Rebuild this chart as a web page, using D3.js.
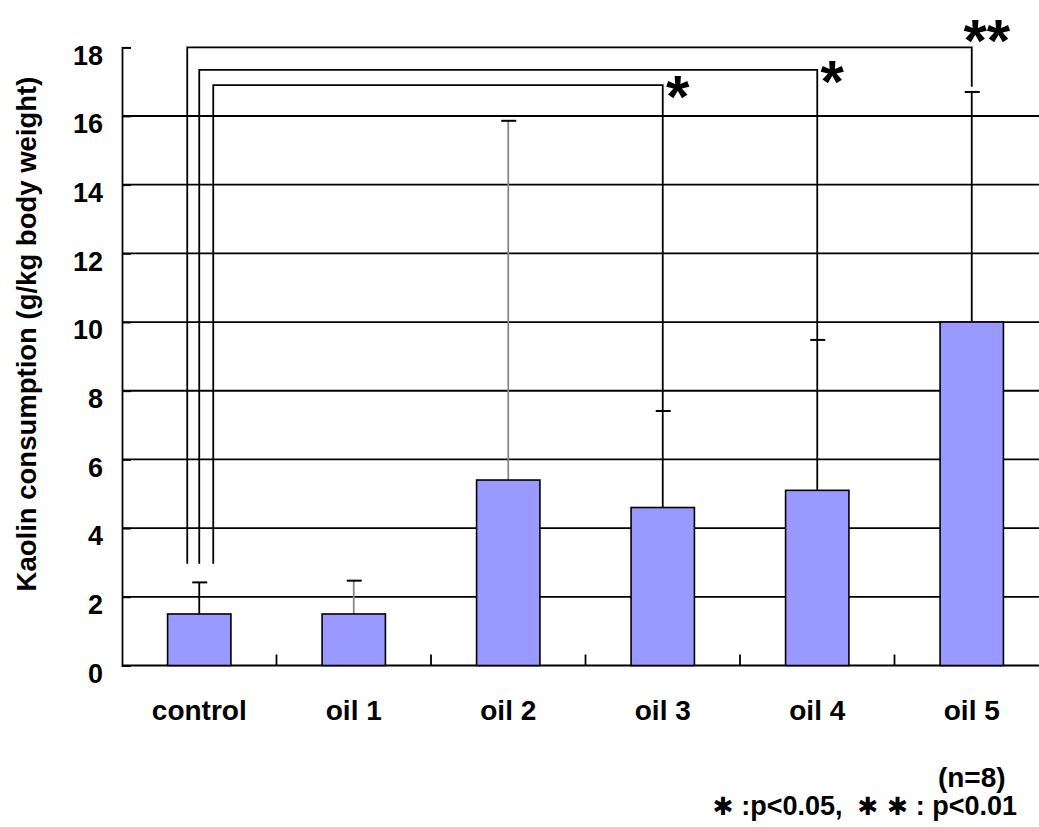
<!DOCTYPE html>
<html>
<head>
<meta charset="utf-8">
<script src="https://cdn.jsdelivr.net/npm/d3@7"></script>
<style>
  body { margin: 0; background: #fff; }
  text { font-family: "Liberation Sans", Arial, sans-serif; font-weight: bold; }
</style>
</head>
<body>
<script>
// data
var groups = ["control", "oil 1", "oil 2", "oil 3", "oil 4", "oil 5"];
var means = [1.5, 1.5, 5.4, 4.6, 5.1, 10.0];
var errTops = [2.42, 2.47, 15.86, 7.41, 9.48, 16.7];
var errColors = ["#000", "#888", "#888", "#000", "#000", "#000"];
var yTicks = [0, 2, 4, 6, 8, 10, 12, 14, 16, 18];
var gridVals = [2, 4, 6, 8, 10, 12, 14, 16];

// significance brackets: all start from control
var brackets = [
  {to: "oil 5", level: 18, end: 16.85, off: -12, label: "**"},
  {to: "oil 4", level: 17.34, end: 9.48, off: 0, label: "*"},
  {to: "oil 3", level: 16.9, end: 7.41, off: 14, label: "*"}
];
var bracketBottom = 2.96;

var W = 1039, H = 827;
var left = 122, axisY = 665.5, topY = 47.3;

var svg = d3.select("body").append("svg")
  .attr("width", W)
  .attr("height", H);

var x = d3.scaleBand()
  .domain(groups)
  .range([left, left + 6 * 154.5])
  .paddingInner(0.59)
  .paddingOuter(0.295);

var y = d3.scaleLinear()
  .domain([0, 18])
  .range([axisY, topY]);

var cx = function (g) { return x(g) + x.bandwidth() / 2; };

// grid lines
svg.selectAll("line.grid")
  .data(gridVals)
  .enter().append("line")
  .attr("class", "grid")
  .attr("x1", left).attr("x2", W)
  .attr("y1", function (d) { return y(d); })
  .attr("y2", function (d) { return y(d); })
  .attr("stroke", "#000")
  .attr("stroke-width", 1.8);

// y axis
var yAxis = svg.append("g")
  .attr("transform", "translate(" + left + ",0)")
  .call(d3.axisLeft(y).tickValues(yTicks).tickSize(-9).tickPadding(19));
yAxis.select(".domain").attr("stroke", "#000").attr("stroke-width", 1.8);
yAxis.selectAll(".tick line").attr("stroke", "#000").attr("stroke-width", 1.8);
yAxis.selectAll("text")
  .attr("font-size", 27)
  .attr("font-family", "'Liberation Sans', Arial, sans-serif")
  .attr("font-weight", "bold")
  .attr("fill", "#000")
  .attr("dy", "0.62em");

// x axis
var xAxis = svg.append("g")
  .attr("transform", "translate(0," + axisY + ")")
  .call(d3.axisBottom(x).tickSize(0).tickPadding(34.5));
xAxis.select(".domain").remove();
xAxis.selectAll("text")
  .attr("font-size", 28)
  .attr("font-family", "'Liberation Sans', Arial, sans-serif")
  .attr("font-weight", "bold")
  .attr("fill", "#000");

svg.append("line")
  .attr("x1", left).attr("x2", W)
  .attr("y1", axisY).attr("y2", axisY)
  .attr("stroke", "#000").attr("stroke-width", 2);

// ticks between groups, pointing up
svg.selectAll("line.xtick")
  .data(groups.slice(1))
  .enter().append("line")
  .attr("class", "xtick")
  .attr("x1", function (d) { return cx(d) - x.step() / 2; })
  .attr("x2", function (d) { return cx(d) - x.step() / 2; })
  .attr("y1", axisY).attr("y2", axisY - 11)
  .attr("stroke", "#000").attr("stroke-width", 1.8);

// error bars
groups.forEach(function (g, i) {
  svg.append("line")
    .attr("x1", cx(g)).attr("x2", cx(g))
    .attr("y1", y(means[i])).attr("y2", y(errTops[i]))
    .attr("stroke", errColors[i]).attr("stroke-width", 1.8);
  svg.append("line")
    .attr("x1", cx(g) - 7).attr("x2", cx(g) + 8)
    .attr("y1", y(errTops[i])).attr("y2", y(errTops[i]))
    .attr("stroke", "#000").attr("stroke-width", 2);
});

// bars
svg.selectAll("rect.bar")
  .data(groups)
  .enter().append("rect")
  .attr("class", "bar")
  .attr("x", function (d) { return x(d); })
  .attr("y", function (d, i) { return y(means[i]); })
  .attr("width", x.bandwidth())
  .attr("height", function (d, i) { return axisY - y(means[i]); })
  .attr("fill", "#9999ff")
  .attr("stroke", "#000")
  .attr("stroke-width", 1.6);

// brackets
brackets.forEach(function (b) {
  var x0 = cx("control") + b.off;
  var x1 = cx(b.to);
  svg.append("path")
    .attr("d", "M" + x0 + "," + y(bracketBottom) +
      "V" + y(b.level) + "H" + x1 + "V" + y(b.end))
    .attr("fill", "none")
    .attr("stroke", "#000")
    .attr("stroke-width", 1.8);
  var fs = 60;
  var starY = b.label === "**" ? y(b.level) - 21 : y(b.level) - 3;
  svg.append("text")
    .attr("x", x1 + 15)
    .attr("y", starY + 0.58 * fs)
    .attr("text-anchor", "middle")
    .attr("font-size", fs)
    .attr("fill", "#000")
    .text(b.label);
});

// y title
svg.append("text")
  .attr("transform", "translate(36,334) rotate(-90)")
  .attr("text-anchor", "middle")
  .attr("font-size", 27.5)
  .attr("fill", "#000")
  .text("Kaolin consumption (g/kg body weight)");

// notes
svg.append("text")
  .attr("x", cx("oil 5"))
  .attr("y", 787)
  .attr("text-anchor", "middle")
  .attr("font-size", 28)
  .attr("fill", "#000")
  .text("(n=8)");

var legendParts = [
  {t: "\u2731", star: true},
  {t: " :p<0.05,  ", star: false},
  {t: "\u2731\u00A0\u2731", star: true},
  {t: " : p<0.01", star: false}
];
var legend = svg.append("text")
  .attr("x", 1017)
  .attr("y", 815)
  .attr("text-anchor", "end")
  .attr("font-size", 27)
  .attr("fill", "#000")
  .style("white-space", "pre");
legend.selectAll("tspan")
  .data(legendParts)
  .enter().append("tspan")
  .attr("font-family", function (d) { return d.star ? "'DejaVu Sans', sans-serif" : null; })
  .attr("font-size", function (d) { return d.star ? 25 : null; })
  .text(function (d) { return d.t; });
</script>
</body>
</html>
